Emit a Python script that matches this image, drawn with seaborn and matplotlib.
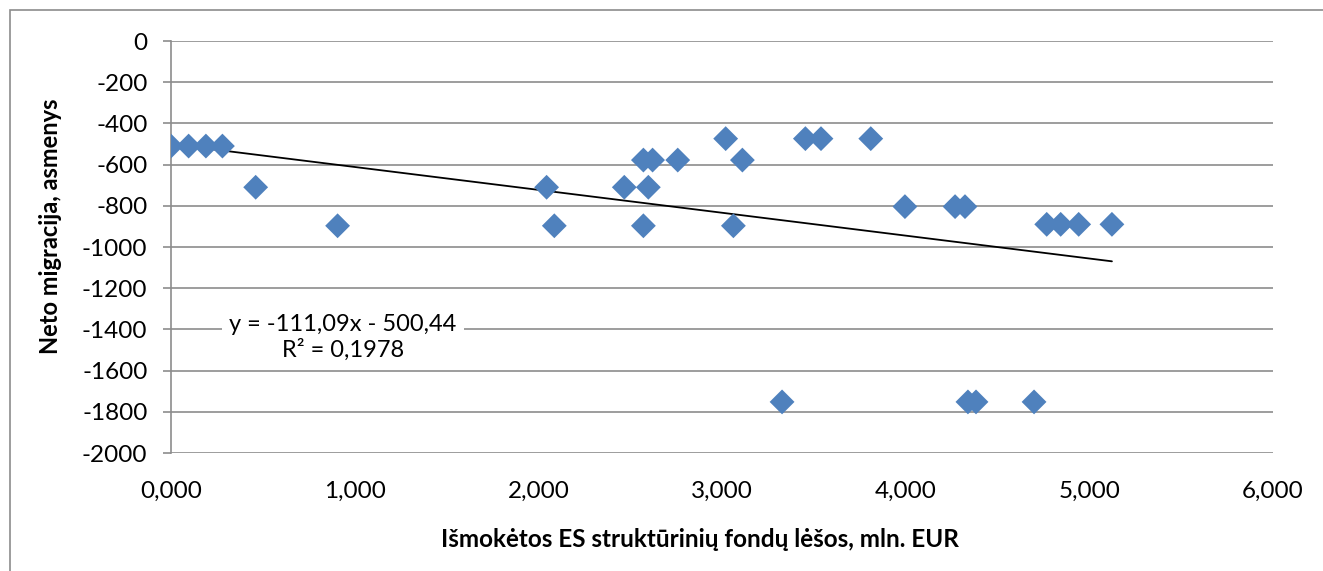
import numpy as np
import pandas as pd
import matplotlib
matplotlib.use("Agg")
import matplotlib.pyplot as plt
import matplotlib.ticker as mticker
from matplotlib.patches import Rectangle
import seaborn as sns

# EU structural funds paid out (mln. EUR) vs net migration (persons)
funds = [0.000, 0.096, 0.190, 0.280, 0.461, 0.907, 2.045, 2.087, 2.468,
         2.572, 2.622, 2.599, 2.572, 2.759, 3.020, 3.111, 3.062, 3.327,
         3.454, 3.539, 3.810, 3.996, 4.269, 4.323, 4.339, 4.383, 4.699,
         4.768, 4.844, 4.942, 5.123]
migration = [-510, -510, -510, -510, -710, -897, -710, -897, -710,
             -578, -578, -710, -897, -578, -474, -578, -897, -1752,
             -474, -474, -474, -804, -804, -804, -1752, -1752, -1752,
             -890, -890, -890, -890]

# linear trend as reported on the chart
slope = -111.09
intercept = -500.44
r_squared = 0.1978

x_label = "Išmokėtos ES struktūrinių fondų lėšos, mln. EUR"
y_label = "Neto migracija, asmenys"

df = pd.DataFrame({"funds": funds, "migration": migration})

sns.set_theme(style="white")
plt.rcParams["font.family"] = ["Lato", "DejaVu Sans"]
plt.rcParams["axes.unicode_minus"] = False

fig = plt.figure(figsize=(13.23, 5.71), dpi=100)
ax = fig.add_axes([171 / 1323, 1 - 453 / 571, (1273 - 171) / 1323, (453 - 41) / 571])

grid_col = "#8c8c8c"
for v in range(-2000, 1, 200):
    ax.axhline(v, color=grid_col, lw=1.2, zorder=0)

# trend line over the data range
x_line = np.array([df["funds"].min(), df["funds"].max()])
trend = pd.DataFrame({"funds": x_line, "migration": slope * x_line + intercept})
sns.lineplot(data=trend, x="funds", y="migration", color="black", lw=1.3,
             ax=ax, zorder=3)

sns.scatterplot(data=df, x="funds", y="migration", marker="D", s=160,
                color="#4F81BD", edgecolor="none", ax=ax, zorder=4)

ax.set_xlim(0, 6)
ax.set_ylim(-2000, 0)
ax.xaxis.set_major_locator(mticker.MultipleLocator(1))
ax.yaxis.set_major_locator(mticker.MultipleLocator(200))
ax.xaxis.set_major_formatter(mticker.FuncFormatter(lambda v, p: f"{v:.3f}".replace(".", ",")))
ax.yaxis.set_major_formatter(mticker.FuncFormatter(lambda v, p: f"{int(round(v))}"))

for s in ["top", "right", "bottom"]:
    ax.spines[s].set_visible(False)
ax.spines["left"].set_color(grid_col)
ax.spines["left"].set_linewidth(1.2)

ax.tick_params(axis="y", length=6, width=1.2, color=grid_col, pad=11,
               labelsize=17.5, left=True, labelcolor="black")
ax.tick_params(axis="x", length=0, pad=20, labelsize=17.5, labelcolor="black")

ax.set_xlabel(x_label, fontsize=17.5, fontweight="bold", color="black")
ax.set_ylabel(y_label, fontsize=17, fontweight="bold", color="black")
ax.xaxis.set_label_coords((700 - 171) / (1273 - 171), -(528 - 453) / (453 - 41))
ax.yaxis.set_label_coords(-(171 - 62) / (1273 - 171), (453 - 226) / (453 - 41))

eq_text = f"y = {slope:.2f}x - {abs(intercept):.2f}\nR² = {r_squared:.4f}".replace(".", ",")
ax.text((343 - 171) / (1273 - 171), (453 - 337) / (453 - 41), eq_text,
        transform=ax.transAxes, ha="center", va="center", fontsize=17,
        linespacing=1.2, zorder=5, color="black",
        bbox=dict(boxstyle="square,pad=0.32", fc="white", ec="none"))

# outer chart frame
fig.patches.append(Rectangle((10 / 1323, -0.1), 1.2, 1 - 10 / 571 + 0.1,
                             transform=fig.transFigure, fill=False,
                             ec="#8c8c8c", lw=1.2))

fig.savefig("out.png", dpi=100)
